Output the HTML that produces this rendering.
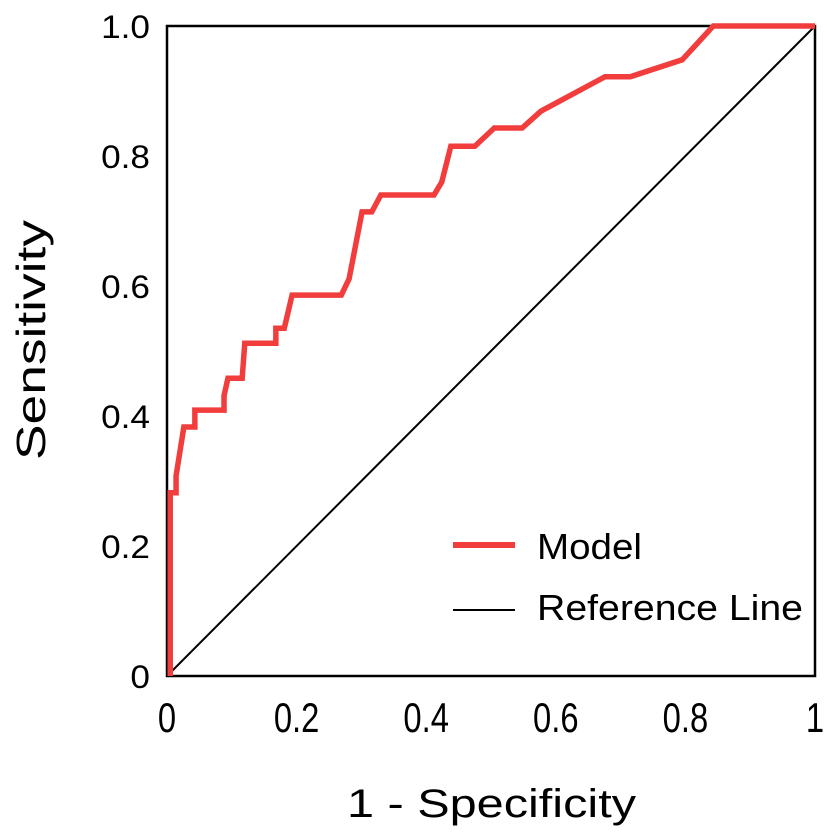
<!DOCTYPE html>
<html><head><meta charset="utf-8"><style>
html,body{margin:0;padding:0;background:#fff;}
svg{display:block;font-family:"Liberation Sans",Arial,sans-serif;}
</style></head><body>
<svg id="chart" width="827" height="836" viewBox="0 0 827 836">
<rect x="167" y="26" width="648" height="650" fill="none" stroke="#000" stroke-width="2.5"/>
<g id="xticks"></g>
<g id="yticks"></g>
<line id="refline" stroke="#000" stroke-width="2"/>
<polyline id="model" fill="none" stroke="#f23d3d" stroke-width="5.5" stroke-linejoin="miter"/>
<text x="347" y="817" font-size="40" textLength="289" lengthAdjust="spacingAndGlyphs">1 - Specificity</text>
<text transform="translate(45,460) rotate(-90)" font-size="41" textLength="240" lengthAdjust="spacingAndGlyphs">Sensitivity</text>
<g>
<line x1="453" y1="545" x2="515" y2="545" stroke="#f23d3d" stroke-width="6"/>
<text x="537" y="559" font-size="36" textLength="105" lengthAdjust="spacingAndGlyphs">Model</text>
<line x1="453" y1="610" x2="515" y2="610" stroke="#000" stroke-width="2"/>
<text x="537" y="620" font-size="36" textLength="266" lengthAdjust="spacingAndGlyphs">Reference Line</text>
</g>
</svg>
<script>
const fprValues=[0.005,0.005,0.014,0.014,0.026,0.043,0.043,0.088,0.088,0.094,0.116,0.120,0.168,0.168,0.181,0.193,0.269,0.281,0.301,0.316,0.330,0.412,0.424,0.438,0.475,0.505,0.548,0.577,0.676,0.715,0.795,0.843,1];
const tprValues=[0,0.282,0.282,0.308,0.383,0.383,0.409,0.409,0.431,0.458,0.458,0.512,0.512,0.535,0.535,0.586,0.586,0.611,0.714,0.714,0.740,0.740,0.760,0.815,0.815,0.843,0.843,0.869,0.922,0.922,0.948,1,1];
const xTickLabels=["0","0.2","0.4","0.6","0.8","1"];
const xTickValues=[0,0.2,0.4,0.6,0.8,1];
const yTickLabels=["0","0.2","0.4","0.6","0.8","1.0"];
const yTickValues=[0,0.2,0.4,0.6,0.8,1];
const X0=167,X1=815,Y0=676,Y1=26;
function sx(v){return X0+v*(X1-X0);}
function sy(v){return Y0-v*(Y0-Y1);}
const NS="http://www.w3.org/2000/svg";
document.getElementById('model').setAttribute('points',fprValues.map((v,i)=>sx(v)+','+sy(tprValues[i])).join(' '));
const r=document.getElementById('refline');
r.setAttribute('x1',sx(0));r.setAttribute('y1',sy(0));r.setAttribute('x2',sx(1));r.setAttribute('y2',sy(1));
const xg=document.getElementById('xticks');
xTickValues.forEach((v,i)=>{const t=document.createElementNS(NS,'text');
t.setAttribute('transform','translate('+sx(v)+',732) scale(0.78,1)');
t.setAttribute('font-size','42');t.setAttribute('text-anchor','middle');


t.textContent=xTickLabels[i];xg.appendChild(t);});
const yg=document.getElementById('yticks');
yTickValues.forEach((v,i)=>{const t=document.createElementNS(NS,'text');
t.setAttribute('transform','translate(150,'+(sy(v)+12)+') scale(1.1,1)');
t.setAttribute('font-size','32');t.setAttribute('text-anchor','end');


t.textContent=yTickLabels[i];yg.appendChild(t);});
</script>
</body></html>
